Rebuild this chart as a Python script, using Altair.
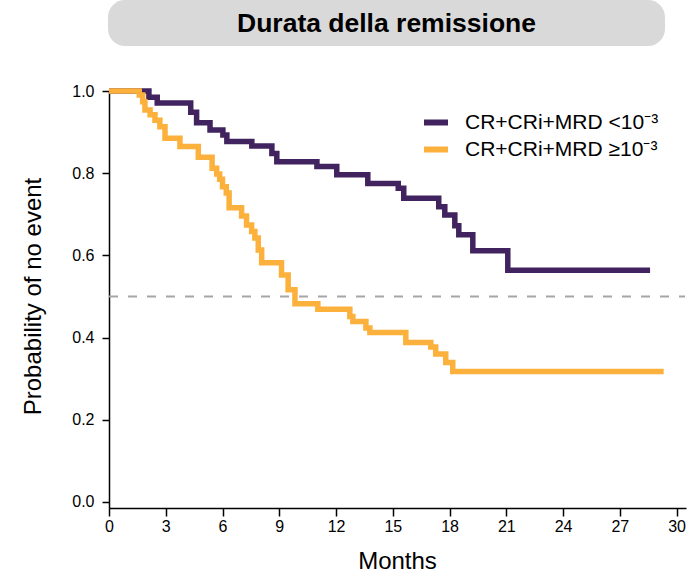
import altair as alt
import pandas as pd

# Kaplan-Meier estimates: event times (months) and survival after each event
months_mrd_low = [0, 2.11, 2.55, 4.32, 4.63, 5.34, 6.02, 6.23, 7.55, 8.61, 8.87,
                  10.99, 12.04, 13.68, 15.29, 15.58, 17.43, 17.75, 18.28, 18.49,
                  19.23, 21.08, 28.6]
surv_mrd_low = [1.0, 0.985, 0.971, 0.948, 0.923, 0.905, 0.893, 0.877, 0.866, 0.848,
                0.828, 0.816, 0.796, 0.775, 0.763, 0.739, 0.718, 0.698, 0.672,
                0.650, 0.611, 0.564, 0.564]

months_mrd_high = [0, 1.60, 1.78, 1.90, 2.17, 2.43, 2.69, 2.96, 3.75, 4.72, 5.45,
                   5.69, 5.85, 6.00, 6.20, 6.35, 7.01, 7.27, 7.54, 7.71, 7.89, 8.07,
                   9.12, 9.47, 9.83, 11.04, 12.73, 12.89, 13.58, 13.79, 15.69,
                   17.01, 17.27, 17.80, 18.17, 29.32]
surv_mrd_high = [1.0, 0.990, 0.974, 0.954, 0.942, 0.929, 0.913, 0.885, 0.865, 0.839,
                 0.812, 0.798, 0.785, 0.767, 0.752, 0.716, 0.696, 0.674, 0.658,
                 0.642, 0.613, 0.582, 0.552, 0.516, 0.482, 0.469, 0.451, 0.439,
                 0.423, 0.412, 0.388, 0.377, 0.360, 0.339, 0.317, 0.317]

groups = ["CR+CRi+MRD <10⁻³", "CR+CRi+MRD ≥10⁻³"]
colors = ["#41245f", "#fcb13c"]
x_ticks = list(range(0, 31, 3))
y_ticks = [0.0, 0.2, 0.4, 0.6, 0.8, 1.0]
median_line = [0.5]
title_text = ["Durata della remissione"]

FONT = "Liberation Sans"
W, H = 577, 417

df_low = pd.DataFrame({"month": months_mrd_low, "surv": surv_mrd_low, "group": groups[0]})
df_high = pd.DataFrame({"month": months_mrd_high, "surv": surv_mrd_high, "group": groups[1]})

x_enc = alt.X(
    "month:Q",
    scale=alt.Scale(domain=[0, 30.5], nice=False, zero=False),
    axis=alt.Axis(values=x_ticks, format="d", title="Months", titleX=288, titleY=53,
                  titleBaseline="middle", titleAlign="center", tickSize=8,
                  labelPadding=2, labelFlush=False),
)
y_enc = alt.Y(
    "surv:Q",
    scale=alt.Scale(domain=[-0.015, 1.0], nice=False, zero=False),
    axis=alt.Axis(values=y_ticks, format=".1f", title="Probability of no event",
                  titleX=-76, titleY=205, titleAngle=-90, titleBaseline="middle",
                  titleAlign="center", tickSize=7, labelPadding=8, labelFlush=False),
)
color_scale = alt.Scale(domain=groups, range=colors)

step = dict(interpolate="step-after", strokeWidth=5.5, strokeJoin="miter", strokeCap="butt")

line_low = alt.Chart(df_low).mark_line(**step).encode(
    x=x_enc, y=y_enc,
    color=alt.Color("group:N", scale=color_scale, legend=alt.Legend(
        title=None, orient="none", legendX=312, legendY=16.5, direction="vertical",
        symbolType="stroke", symbolSize=576, symbolStrokeWidth=6,
        labelFontSize=21, labelFont=FONT, labelColor="black", labelOffset=14,
        rowPadding=-1, padding=0, labelLimit=400)),
)
line_high = alt.Chart(df_high).mark_line(**step).encode(
    x="month:Q", y="surv:Q",
    color=alt.Color("group:N", scale=color_scale),
)

ref_rule = alt.Chart(pd.DataFrame({"y": median_line})).mark_rule(
    color="#a6a6a6", strokeDash=[9, 10], strokeWidth=2
).encode(y="y:Q", x=alt.value(0), x2=alt.value(576))

title_df = pd.DataFrame({"label": title_text})
title_box = alt.Chart(title_df).mark_rect(color="#d9d9d9", cornerRadius=17).encode(
    x=alt.value(-1), x2=alt.value(556), y=alt.value(-91), y2=alt.value(-45)
)
title_label = alt.Chart(title_df).mark_text(
    font=FONT, fontSize=26.5, fontWeight="bold", color="black",
    align="center", baseline="middle"
).encode(text="label:N", x=alt.value(277.5), y=alt.value(-67))

chart = alt.layer(title_box, title_label, ref_rule, line_low, line_high).properties(
    width=W, height=H,
    autosize=alt.AutoSizeParams(type="none"),
    padding={"left": 109, "top": 91, "right": 9, "bottom": 66},
).configure_view(stroke=None).configure_axis(
    grid=False, domainColor="black", domainWidth=1.5, tickColor="black", tickWidth=1.5,
    labelFont=FONT, labelFontSize=16, labelColor="black",
    titleFont=FONT, titleFontSize=24, titleFontWeight="normal", titleColor="black",
)

chart.save("out.html", embed_options={"renderer": "svg", "actions": False})
